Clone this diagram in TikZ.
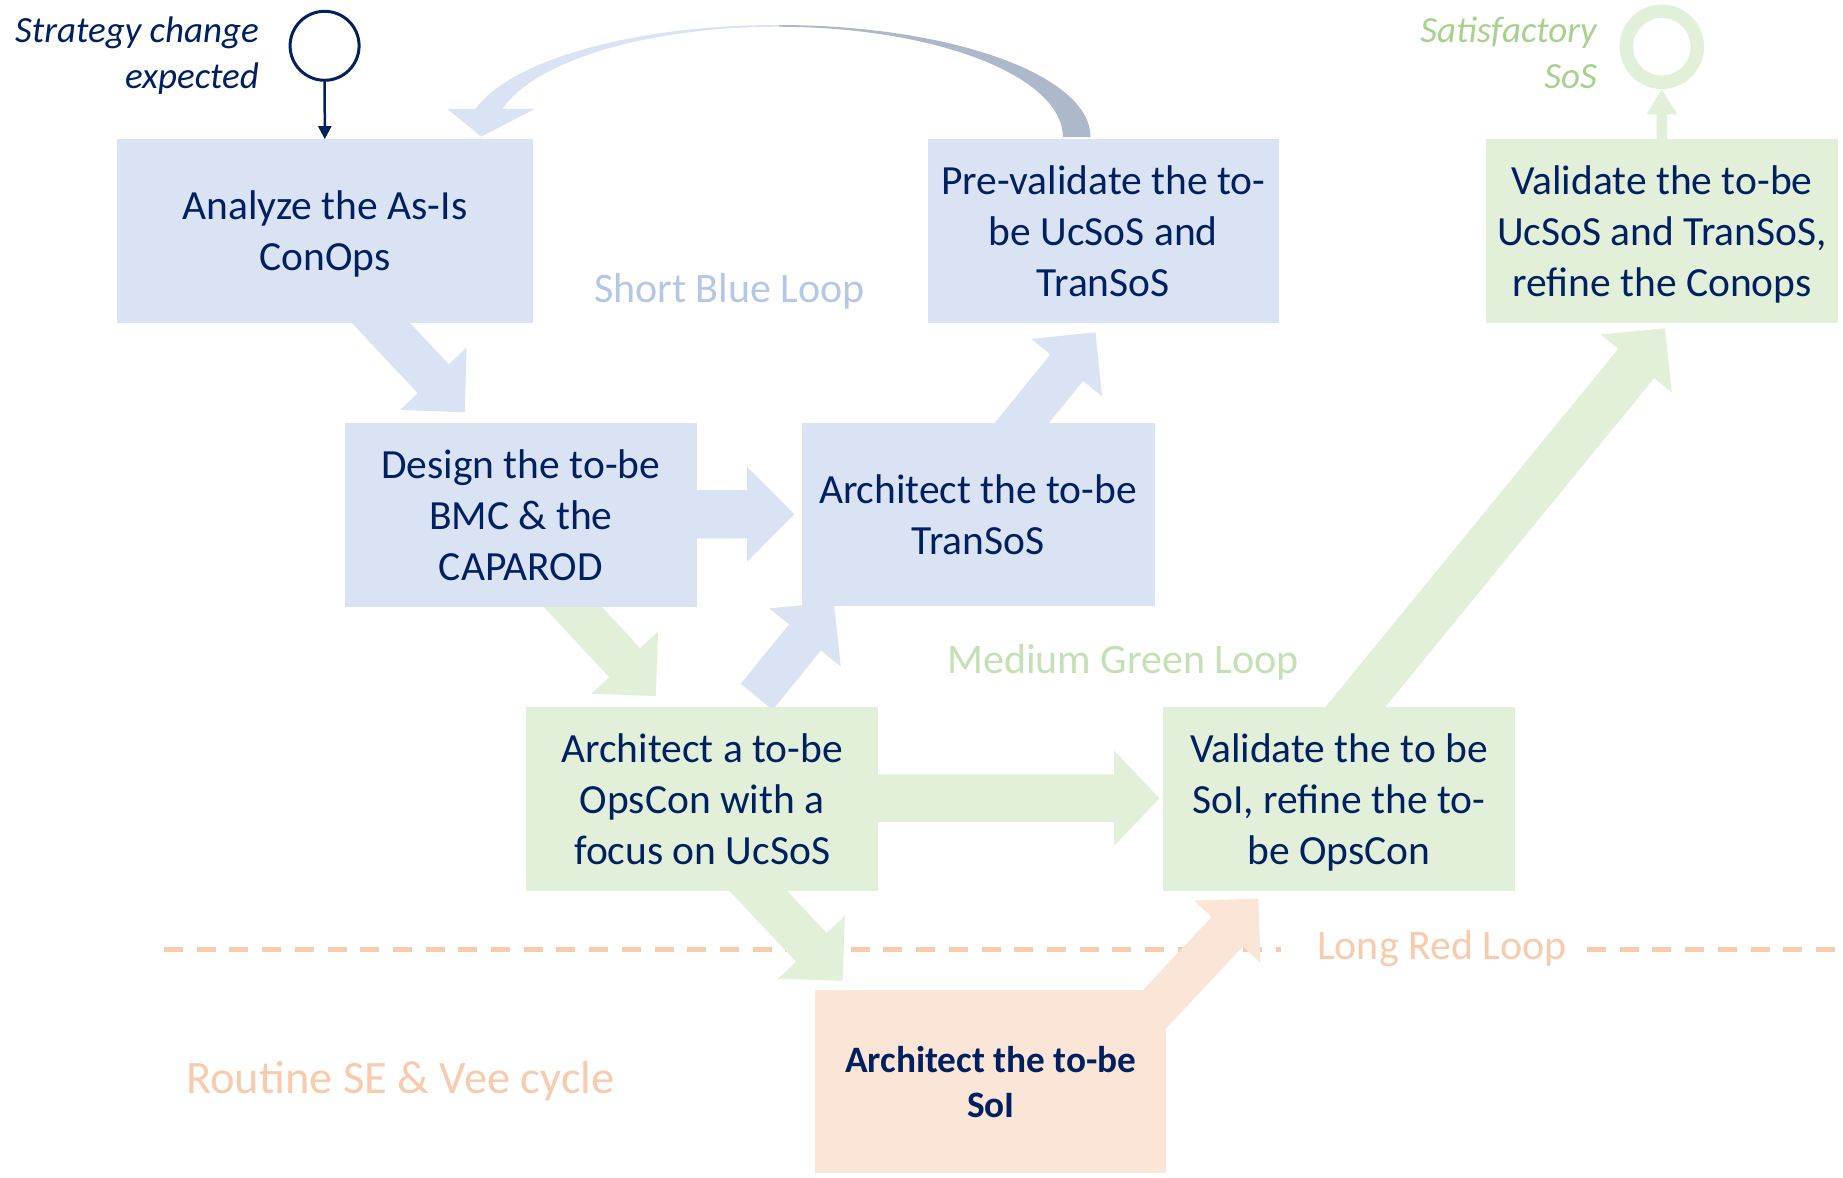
\documentclass[tikz,border=0pt]{standalone}
\usepackage{fontspec}
\setmainfont{Carlito}
\usetikzlibrary{calc,arrows.meta}
\definecolor{navy}{HTML}{002060}
\definecolor{boxblue}{HTML}{DAE3F3}
\definecolor{boxgreen}{HTML}{E2F0D9}
\definecolor{boxpeach}{HTML}{FBE5D6}
\definecolor{lblblue}{HTML}{B4C7E7}
\definecolor{lblgreen}{HTML}{C5E0B4}
\definecolor{satgreen}{HTML}{A9D18E}
\definecolor{lblpeach}{HTML}{F8CBAD}
\definecolor{arcgray}{HTML}{ADB9CA}
% #1 tail, #2 tip, #3 half shaft, #4 half head, #5 head length, #6 colour
\newcommand{\blockarrow}[6]{%
  \path ($(#2)!#5pt!(#1)$) coordinate (ba-hb);
  \fill[#6] ($(#1)!#3pt!90:(#2)$) -- ($(ba-hb)!#3pt!-90:(#1)$) -- ($(ba-hb)!#4pt!-90:(#1)$) -- (#2)
     -- ($(ba-hb)!#4pt!90:(#1)$) -- ($(ba-hb)!#3pt!90:(#1)$) -- ($(#1)!#3pt!-90:(#2)$) -- cycle;
}
\newcommand{\loopshape}{(1090.5,137) arc[start angle=0, end angle=165.5, x radius=312.5pt, y radius=112pt]
  -- (447.4,109) -- (481.2,136.7) -- (534.5,109) -- (502.3,109)
  arc[start angle=165.26, end angle=0, x radius=285pt, y radius=110.3pt] -- cycle}
% a last line whose descenders do not count for centring
\newcommand{\nodepth}[1]{\raisebox{0pt}[\height][0pt]{#1}}
\begin{document}
\begin{tikzpicture}[x=1pt,y=-1pt,
  box/.style={rectangle, inner sep=0pt, minimum height=183.4pt, align=center, text=navy,
              font=\fontsize{41.5}{51}\selectfont},
  bluebox/.style={box, fill=boxblue},
  greenbox/.style={box, fill=boxgreen},
  peachbox/.style={box, fill=boxpeach, font=\fontsize{37.3}{45}\selectfont\bfseries},
  looplabel/.style={inner sep=0pt, anchor=base, font=\fontsize{42}{50}\selectfont},
  dashline/.style={draw=lblpeach, line width=4.7pt, dash pattern=on 19pt off 13.7pt}
]
\useasboundingbox[fill=white] (0,0) rectangle (1843,1177);

% dashed separator
\coordinate (dl-a) at (164,949.3);
\coordinate (dl-b) at (1281,949.3);
\coordinate (dl-c) at (1587,949.3);
\coordinate (dl-d) at (1843,949.3);
\draw[dashline] (dl-a) -- (dl-b);
\draw[dashline] (dl-c) -- (dl-d);

% curved return arrow of the short blue loop
\begin{scope}
  \clip (0,0) rectangle (779,200);
  \fill[boxblue] \loopshape;
\end{scope}
\begin{scope}
  \clip (779,0) rectangle (1200,200);
  \fill[arcgray] \loopshape;
\end{scope}

% arrow end points
\coordinate (a1t) at (363.6,304.5);   \coordinate (a1h) at (464.8,412.3);
\coordinate (a2t) at (680,514.2);     \coordinate (a2h) at (794.4,514.2);
\coordinate (a3t) at (1006.1,442.2);  \coordinate (a3h) at (1095.5,332.3);
\coordinate (a4t) at (555.5,588.4);   \coordinate (a4h) at (655.8,696);
\coordinate (a5t) at (756.7,696.8);   \coordinate (a5h) at (833.8,602);
\coordinate (a6t) at (860,798.2);     \coordinate (a6h) at (1159.5,798.2);
\coordinate (a7t) at (1339.2,726.7);  \coordinate (a7h) at (1665,328.3);
\coordinate (a8t) at (741.2,872.8);   \coordinate (a8h) at (842.7,980.7);
\coordinate (a9t) at (1138.3,1026.6); \coordinate (a9h) at (1258.3,898.6);
\coordinate (a10t) at (1661.8,150);   \coordinate (a10h) at (1661.8,89.5);

\blockarrow{a1t}{a1h}{21.2}{45.5}{46}{boxblue}
\blockarrow{a2t}{a2h}{24.2}{47.5}{47.3}{boxblue}
\blockarrow{a3t}{a3h}{21}{45.5}{45.6}{boxblue}
\blockarrow{a4t}{a4h}{21.3}{45.7}{45.6}{boxgreen}
\blockarrow{a5t}{a5h}{20.6}{46}{45.6}{boxblue}
\blockarrow{a6t}{a6h}{23.9}{47.7}{45.4}{boxgreen}
\blockarrow{a7t}{a7h}{23.2}{45.9}{45.4}{boxgreen}
\blockarrow{a8t}{a8h}{21}{46}{45.8}{boxgreen}
\blockarrow{a9t}{a9h}{21.5}{45.6}{45.4}{boxpeach}
\blockarrow{a10t}{a10h}{5.2}{15.5}{25}{boxgreen}

% boxes
\node[bluebox, minimum width=415.5pt] (analyze) at (325,231) {Analyze the As-Is\\\nodepth{ConOps}};
\node[bluebox, minimum width=351.5pt] (preval) at (1103.3,231) {Pre-validate the to-\\be UcSoS and\\TranSoS};
\node[greenbox, minimum width=351.7pt] (valuc) at (1661.9,231) {Validate the to-be\\UcSoS and TranSoS,\\\nodepth{refine the Conops}};
\node[bluebox, minimum width=351.5pt] (design) at (520.8,515) {Design the to-be\\BMC \& the\\CAPAROD};
\node[bluebox, minimum width=353pt] (transos) at (978,514.7) {Architect the to-be\\TranSoS};
\node[greenbox, minimum width=352.5pt] (opscon) at (702.2,799) {Architect a to-be\\OpsCon with a\\focus on UcSoS};
\node[greenbox, minimum width=352pt] (valsoi) at (1339,799) {Validate the to be\\SoI, refine the to-\\\nodepth{be OpsCon}};
\node[peachbox, minimum width=351.2pt] (soi) at (990.8,1081.7) {Architect the to-be\\SoI};

% start and end events
\node[circle, draw=navy, line width=3pt, minimum size=69pt, inner sep=0pt] (strat) at (324.6,45.8) {};
\draw[navy, line width=2.5pt, -{Triangle[length=13pt,width=13pt]}] (strat) -- (analyze);
\node[circle, draw=boxgreen, line width=13.5pt, minimum size=71pt, inner sep=0pt] (satring) at (1661.8,46.7) {};

\node[anchor=east, align=right, inner sep=0pt, text=navy, font=\fontsize{37}{45.6}\selectfont\itshape]
  (strattext) at (259,55.5) {Strategy change\\expected};
\node[anchor=east, align=right, inner sep=0pt, text=satgreen, font=\fontsize{37}{45.6}\selectfont\itshape]
  (sattext) at (1597,53) {Satisfactory\\SoS};

% loop labels
\node[looplabel, text=lblblue] (shortlbl) at (729.5,302.7) {Short Blue Loop};
\node[looplabel, text=lblgreen] (mediumlbl) at (1123,673.3) {Medium Green Loop};
\node[looplabel, text=lblpeach] (longlbl) at (1442,959.3) {Long Red Loop};
\node[looplabel, text=lblpeach, font=\fontsize{46.5}{54}\selectfont] (routinelbl) at (400.3,1093.3) {Routine SE \& Vee cycle};
\end{tikzpicture}
\end{document}
